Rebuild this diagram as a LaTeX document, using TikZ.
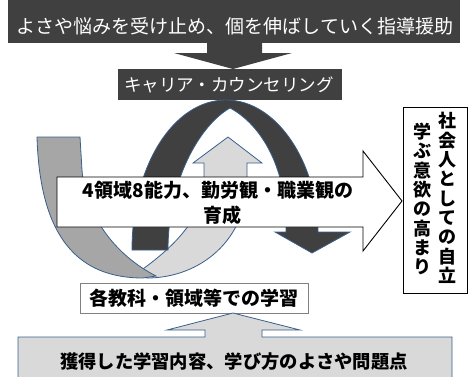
\documentclass[tikz,border=0pt]{standalone}
\usepackage{fontspec}
\newfontfamily\jp{Noto Sans CJK JP}
\definecolor{dk}{HTML}{404040}
\definecolor{midg}{HTML}{A6A6A6}
\definecolor{lightg}{HTML}{D9D9D9}
\definecolor{edge}{HTML}{3A5F8B}
\definecolor{boxline}{HTML}{808080}
\tikzset{
  darkfill/.style={fill=dk, draw=none},
  bandshape/.style={draw=edge, line width=0.8pt},
  whitetxt/.style={text=white, inner sep=0pt},
  boldtxt/.style={text=black, inner sep=0pt, font=\jp\bfseries\fontsize{#1}{#1}\selectfont},
  vcol/.style={text=black, inner sep=0pt, align=center, font=\jp\bfseries\fontsize{18}{19.3}\selectfont},
}
\begin{document}
\begin{tikzpicture}[x=1pt,y=-1pt]
\useasboundingbox (0,0) rectangle (472,376);
\clip (0,0) rectangle (472,376);

% top dark box and arrow
\fill[darkfill] (8,-10) rectangle (460,43);
\node[whitetxt, font=\jp\fontsize{19}{19}\selectfont] (top) at (235,26) {よさや悩みを受け止め、個を伸ばしていく指導援助};
\fill[darkfill] (207,43) -- (262,43) -- (262,53) -- (292,53) -- (233,69) -- (174,53) -- (207,53) -- cycle;
\fill[darkfill] (118,69) rectangle (342,100);
\node[whitetxt, font=\jp\fontsize{17.5}{17.5}\selectfont] (cc) at (229,85) {キャリア・カウンセリング};

% light gray up arrow with band
\filldraw[bandshape, fill=lightg] (228,137) -- (262,163) -- (247,163) -- (247,180)
  .. controls (247,240) and (200,278) .. (147,278) -- (136,274)
  .. controls (170,250) and (204,220) .. (204,180) -- (204,163) -- (193,163) -- cycle;
% mid gray band
\filldraw[bandshape, fill=midg] (37,137) -- (80,137) -- (82,170)
  .. controls (85,215) and (115,255) .. (156,276) -- (143,278)
  .. controls (80,278) and (40,240) .. (37,137) -- cycle;

% dark arc arrow
\filldraw[bandshape, fill=dk] (132,250) .. controls (132,165) and (174,100) .. (226,100)
  .. controls (278,100) and (318,165) .. (318,232) -- (350,232) -- (312,253) -- (275,232) -- (286,232)
  .. controls (288,170) and (262,125) .. (230,108)
  .. controls (200,125) and (168,180) .. (168,250) -- cycle;

% big white arrow
\filldraw[draw=black, line width=0.9pt, fill=white] (57,177) -- (363,177) -- (363,151) -- (402,201)
  -- (363,251) -- (363,227) -- (57,227) -- cycle;
\node[boldtxt=19] (l1) at (218,190) {4領域8能力、勤労観・職業観の};
\node[boldtxt=19] (l2) at (222,215) {育成};

% right box
\draw[black, line width=0.9pt, fill=white] (403,107) rectangle (467,293);
\node[vcol] (c1) at (447,198) {社\\会\\人\\と\\し\\て\\の\\自\\立};
\node[vcol] (c2) at (422,199) {学\\ぶ\\意\\欲\\の\\高\\ま\\り};

% learning box
\draw[boxline, line width=0.9pt, fill=white] (80,283) rectangle (308,313);
\node[boldtxt=19] (learn) at (194,298) {各教科・領域等での学習};

% bottom box with up arrow
\filldraw[bandshape, fill=lightg] (18,337) -- (205,337) -- (205,330) -- (167,330) -- (233,313)
  -- (300,330) -- (262,330) -- (262,337) -- (452,337) -- (452,385) -- (18,385) -- cycle;
\node[boldtxt=18.3] (bottom) at (234,362) {獲得した学習内容、学び方のよさや問題点};
\end{tikzpicture}
\end{document}
